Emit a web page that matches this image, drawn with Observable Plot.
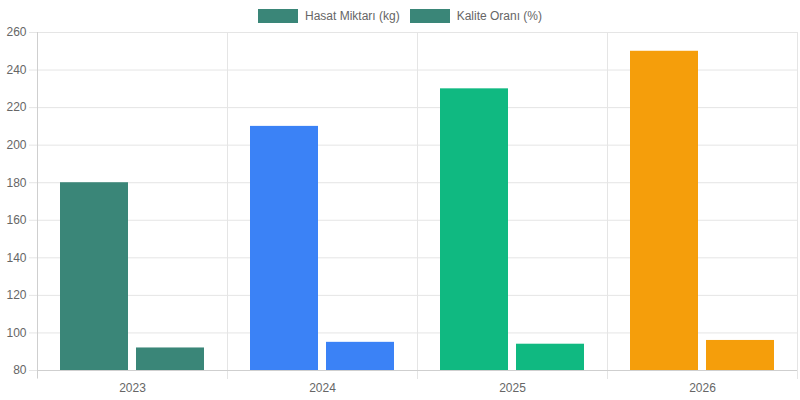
<!DOCTYPE html>
<html><head><meta charset="utf-8">
<script src="https://cdn.jsdelivr.net/npm/d3@7"></script>
<script src="https://cdn.jsdelivr.net/npm/@observablehq/plot@0.6"></script>
<style>
body{margin:0;background:#fff;font-family:"Liberation Sans",Arial,sans-serif;}
#legend{height:26px;box-sizing:border-box;padding-top:9px;display:flex;justify-content:center;font-size:12px;color:#666;}
.item{display:flex;align-items:center;margin:0 5px;height:14px;}
.box{width:38px;height:12px;margin-right:7px;border:1px solid #3a8678;}
</style></head><body>
<div id="legend"></div>
<div id="chart"></div>
<script>
const years = ["2023", "2024", "2025", "2026"];
const seriesNames = ["Hasat Miktarı (kg)", "Kalite Oranı (%)"];
const harvest = [180, 210, 230, 250];
const quality = [92, 95, 94, 96];
const yearColors = ["#3a8678", "#3b82f6", "#10b981", "#f59e0b"];
const legendColor = "#3a8678";
const yTicks = [80, 100, 120, 140, 160, 180, 200, 220, 240, 260];
const yMin = 80, yMax = 260;

const data = years.flatMap((y, i) => [
  {year: y, series: seriesNames[0], value: harvest[i]},
  {year: y, series: seriesNames[1], value: quality[i]}
]);

const legend = document.getElementById("legend");
seriesNames.forEach(n => {
  const it = document.createElement("div"); it.className = "item";
  const b = document.createElement("div"); b.className = "box"; b.style.background = legendColor;
  const t = document.createElement("span"); t.textContent = n;
  it.appendChild(b); it.appendChild(t); legend.appendChild(it);
});

const gridColor = "#e5e5e5";
const axisColor = "#cfcfcf";
const chart = Plot.plot({
  width: 800, height: 374,
  marginLeft: 37, marginRight: 3, marginTop: 6, marginBottom: 30,
  style: {fontFamily: "'Liberation Sans', Arial, sans-serif", fontSize: "12px", color: "#666", background: "#fff"},
  fx: {domain: years, padding: 0, label: null},
  x: {domain: seriesNames, paddingInner: 0.1, paddingOuter: 0.3, align: 0.5, axis: null},
  y: {domain: [yMin, yMax], label: null},
  color: {domain: years, range: yearColors},
  marks: [
    Plot.gridY(yTicks, {stroke: gridColor, strokeOpacity: 1}),
    Plot.frame({anchor: "left", stroke: gridColor, strokeOpacity: 1, insetBottom: -8}),
    Plot.frame({anchor: "right", stroke: gridColor, strokeOpacity: 1, insetBottom: -8}),
    Plot.barY(data, {fx: "year", x: "series", y1: yMin, y2: "value", fill: "year"}),
    Plot.ruleY([yMin], {stroke: axisColor}),
    Plot.axisY(yTicks, {anchor: "left", tickSize: 8, tickPadding: 3, stroke: gridColor, fill: "#666", fontSize: 12, label: null}),
    Plot.axisFx({anchor: "bottom", tickSize: 0, tickPadding: 13, fill: "#666", fontSize: 12, label: null})
  ]
});
document.getElementById("chart").appendChild(chart);
// darker y-axis line
d3.select(chart).append("line")
  .attr("x1", 37.5).attr("x2", 37.5).attr("y1", 6).attr("y2", 374 - 30 + 8)
  .attr("stroke", axisColor);
</script>
</body></html>
